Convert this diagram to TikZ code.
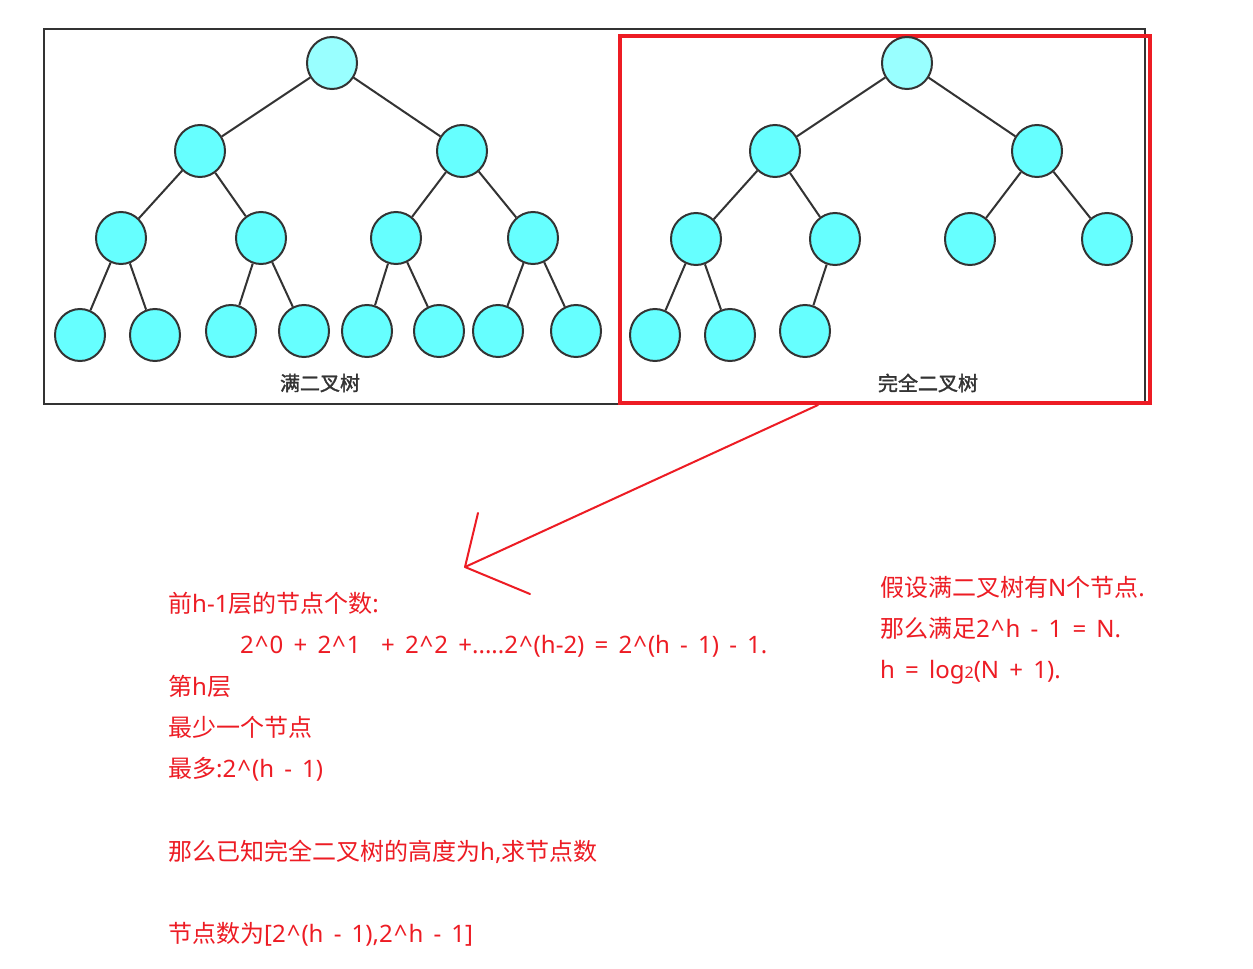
\documentclass[tikz,border=0pt]{standalone}
\usepackage{fontspec}
\setmainfont{Noto Sans}
\newfontfamily\cjk{Noto Sans CJK SC}
\newfontfamily\cjkb[FakeBold=1.6]{Noto Sans CJK SC}
\usetikzlibrary{shapes.geometric}
\definecolor{linegray}{HTML}{333333}
\definecolor{cyanfill}{HTML}{66FFFF}
\definecolor{rootfill}{HTML}{99FFFF}
\definecolor{txtred}{RGB}{237,28,36}
\newcommand\ca{\hspace{1pt}\textasciicircum\hspace{1pt}}
\newcommand\widesp{\setlength{\spaceskip}{10.2pt}}
\tikzset{
  tn/.style={ellipse, draw=linegray, line width=2pt, fill=cyanfill, minimum width=50pt, minimum height=52pt, inner sep=0pt},
  rt/.style={tn, fill=rootfill},
  edge/.style={draw=linegray, line width=2pt},
  redtxt/.style={anchor=base west, inner sep=0pt, text=txtred, font=\fontsize{24}{24}\selectfont, execute at begin node=\widesp},
  lbl/.style={inner sep=0pt, text=linegray, font=\fontsize{20}{20}\selectfont\cjkb},
  redline/.style={draw=txtred, line width=2pt, line cap=round, line join=round}
}
\begin{document}
\begin{tikzpicture}[x=1pt,y=-1pt]
\useasboundingbox (0,0) rectangle (1253,969);
\fill[white] (0,0) rectangle (1253,969);

% frames
\draw[linegray, line width=2pt] (44,28.5) rectangle (1145,404);
\draw[txtred, line width=4pt] (619.5,35.5) rectangle (1149.5,402.5);

% full binary tree
\node[rt] (a) at (332,63) {};
\node[tn] (a1) at (200,151) {};
\node[tn] (a2) at (462,151) {};
\node[tn] (a11) at (121,238) {};
\node[tn] (a12) at (261,238) {};
\node[tn] (a21) at (396,238) {};
\node[tn] (a22) at (533,238) {};
\node[tn] (a111) at (80,335) {};
\node[tn] (a112) at (155,335) {};
\node[tn] (a121) at (231,331) {};
\node[tn] (a122) at (304,331) {};
\node[tn] (a211) at (367,331) {};
\node[tn] (a212) at (439,331) {};
\node[tn] (a221) at (498,331) {};
\node[tn] (a222) at (576,331) {};
\foreach \p/\c in {a/a1,a/a2,a1/a11,a1/a12,a2/a21,a2/a22,a11/a111,a11/a112,a12/a121,a12/a122,a21/a211,a21/a212,a22/a221,a22/a222}
  \draw[edge] (\p) -- (\c);
\node[lbl] (la) at (320,383) {满二叉树};

% complete binary tree
\node[rt] (b) at (907,63) {};
\node[tn] (b1) at (775,151) {};
\node[tn] (b2) at (1037,151) {};
\node[tn] (b11) at (696,239) {};
\node[tn] (b12) at (835,239) {};
\node[tn] (b21) at (970,239) {};
\node[tn] (b22) at (1107,239) {};
\node[tn] (b111) at (655,335) {};
\node[tn] (b112) at (730,335) {};
\node[tn] (b121) at (805,331) {};
\foreach \p/\c in {b/b1,b/b2,b1/b11,b1/b12,b2/b21,b2/b22,b11/b111,b11/b112,b12/b121}
  \draw[edge] (\p) -- (\c);
\node[lbl] (lb) at (928,383) {完全二叉树};

% hand-drawn arrow
\coordinate (s) at (818,405);
\coordinate (tip) at (465,567);
\coordinate (w1) at (478,513);
\coordinate (w2) at (530,594);
\draw[redline] (s) -- (tip);
\draw[redline] (w1) -- (tip) -- (w2);

% left text
\node[redtxt] (t1) at (168,612) {{\cjk 前}h-1{\cjk 层的节点个数}:};
\node[redtxt] (t2) at (240,653) {2\ca0 + 2\ca1\ \ + 2\ca2 +.....2\ca(h-2) = 2\ca(h - 1) - 1.};
\node[redtxt] (t3) at (168,695) {{\cjk 第}h{\cjk 层}};
\node[redtxt] (t4) at (168,736) {{\cjk 最少一个节点}};
\node[redtxt] (t5) at (168,777) {{\cjk 最多}:2\ca(h - 1)};
\node[redtxt] (t6) at (168,860) {{\cjk 那么已知完全二叉树的高度为}h,{\cjk 求节点数}};
\node[redtxt] (t7) at (168,942) {{\cjk 节点数为}[2\ca(h - 1),2\ca h - 1]};

% right text
\node[redtxt] (r1) at (880,596) {{\cjk 假设满二叉树有}N{\cjk 个节点}.};
\node[redtxt] (r2) at (880,637) {{\cjk 那么满足}2\ca h - 1 = N.};
\node[redtxt] (r3) at (880,678) {h = log{\fontsize{16}{16}\selectfont 2}(N + 1).};
\end{tikzpicture}
\end{document}
